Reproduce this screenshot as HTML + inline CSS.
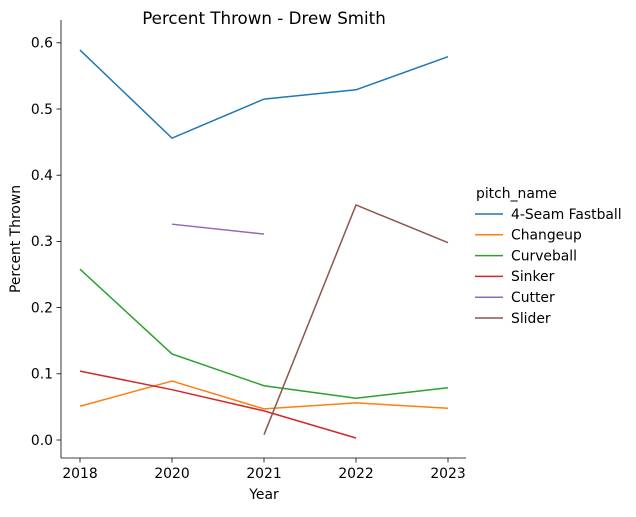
<!DOCTYPE html>
<html><head><meta charset="utf-8"><style>
body{margin:0;background:#fff;}
svg text{font-family:"DejaVu Sans","Liberation Sans",sans-serif;fill:#000;}
</style></head><body>
<svg id="chart" width="636" height="512" xmlns="http://www.w3.org/2000/svg"></svg>
<script>
const categories=["2018","2020","2021","2022","2023"];
const seriesNames=["4-Seam Fastball","Changeup","Curveball","Sinker","Cutter","Slider"];
const fastball=[0.589,0.456,0.515,0.529,0.579];
const changeup=[0.051,0.089,0.047,0.056,0.048];
const curveball=[0.258,0.130,0.082,0.063,0.079];
const sinker=[0.104,0.076,0.044,0.003,null];
const cutter=[null,0.326,0.311,null,null];
const slider=[null,null,0.008,0.355,0.298];
const yTicks=[0.0,0.1,0.2,0.3,0.4,0.5,0.6];
const colors=["#1f77b4","#ff7f0e","#2ca02c","#d62728","#9467bd","#8c564b"];
const allSeries=[fastball,changeup,curveball,sinker,cutter,slider];
const NS="http://www.w3.org/2000/svg";
const svg=document.getElementById('chart');
function mk(t,a,txt){const e=document.createElementNS(NS,t);for(const k in a)e.setAttribute(k,a[k]);if(txt!==undefined)e.textContent=txt;svg.appendChild(e);return e;}
const L=61,R=466,T=20,B=458;
const xs=i=>80+i*92;
const ys=v=>440-v*662;
let e;
e=mk('text',{x:264,y:24,'text-anchor':'middle','font-size':16.7},'Percent Thrown - Drew Smith');

e=mk('line',{x1:L,y1:T,x2:L,y2:B,stroke:'#000','stroke-width':0.8});

e=mk('line',{x1:L,y1:B,x2:R,y2:B,stroke:'#000','stroke-width':0.8});

yTicks.forEach(v=>{
 mk('line',{x1:L-4.5,y1:ys(v),x2:L,y2:ys(v),stroke:'#000','stroke-width':0.8});
 e=mk('text',{x:L-8,y:ys(v)+4.8,'text-anchor':'end','font-size':13.9},v.toFixed(1));
 
});
categories.forEach((c,i)=>{
 mk('line',{x1:xs(i),y1:B,x2:xs(i),y2:B+4.5,stroke:'#000','stroke-width':0.8});
 e=mk('text',{x:xs(i),y:B+20,'text-anchor':'middle','font-size':13.9},c);
 
});
e=mk('text',{x:264,y:499,'text-anchor':'middle','font-size':13.9},'Year');

e=mk('text',{x:20,y:239,'text-anchor':'middle','font-size':13.9,transform:'rotate(-90 20 239)'},'Percent Thrown');

allSeries.forEach((s,k)=>{
 let d='',pen=false;
 s.forEach((v,i)=>{if(v===null){pen=false;return;}d+=(pen?'L':'M')+xs(i)+','+ys(v);pen=true;});
 e=mk('path',{d:d,fill:'none',stroke:colors[k],'stroke-width':1.5});
 
 
});
e=mk('text',{x:476,y:198,'font-size':13.9},'pitch_name');

seriesNames.forEach((n,k)=>{
 const y=214+k*20.8;
 mk('line',{x1:475,y1:y,x2:503,y2:y,stroke:colors[k],'stroke-width':1.5});
 e=mk('text',{x:511,y:y+4.8,'font-size':13.9},n);
 
});
</script>
</body></html>
